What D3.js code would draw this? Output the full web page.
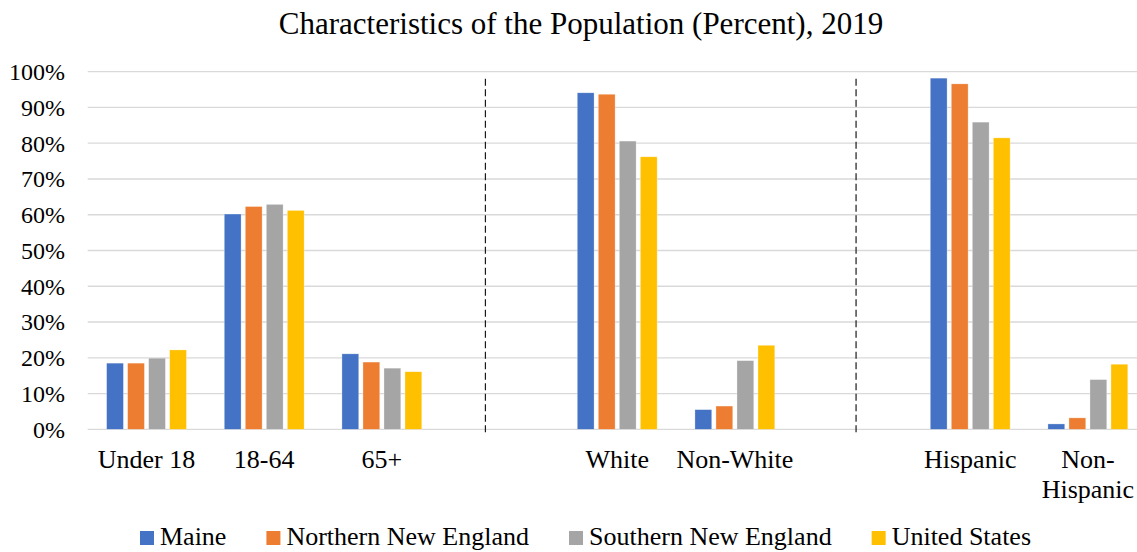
<!DOCTYPE html>
<html>
<head>
<meta charset="utf-8">
<script src="https://cdn.jsdelivr.net/npm/d3@7"></script>
<style>
  html, body { margin: 0; padding: 0; background: #fff; overflow: hidden; }
  svg { display: block; }
  svg text { font-family: "Liberation Serif", "Times New Roman", serif !important; }
</style>
</head>
<body>
<svg id="chart" width="1137" height="552"></svg>
<script>
// ---- data ----
const categories = ["Under 18", "18-64", "65+", "", "White", "Non-White", " ", "Hispanic", "Non-Hispanic"];
const seriesNames = ["Maine", "Northern New England", "Southern New England", "United States"];
const maine      = [18.5, 60.2, 21.1, null, 94.1, 5.5, null, 98.2, 1.5];
const northernNE = [18.5, 62.3, 18.8, null, 93.7, 6.5, null, 96.6, 3.2];
const southernNE = [19.9, 62.9, 17.1, null, 80.6, 19.2, null, 85.9, 13.9];
const unitedStates = [22.2, 61.2, 16.1, null, 76.2, 23.5, null, 81.5, 18.2];
const yTicks = [0, 10, 20, 30, 40, 50, 60, 70, 80, 90, 100];
const title = "Characteristics of the Population (Percent), 2019";
// section divider positions, in category-band units from the left of the plot
const dividers = [3.38, 6.53];

const seriesValues = [maine, northernNE, southernNE, unitedStates];
const colors = ["#4472C4", "#ED7D31", "#A5A5A5", "#FFC000"];

const svg = d3.select("#chart");
const W = 1137, H = 552;
const plotLeft = 87.7, plotRight = 1146.7, plotTop = 71.7, plotBottom = 429.3;
const FONT = "'Liberation Serif', 'Times New Roman', serif";

const x0 = d3.scaleBand().domain(categories).range([plotLeft, plotRight]).padding(0);
const groupPad = x0.bandwidth() * 0.1428;
const x1 = d3.scaleBand().domain(seriesNames)
  .range([groupPad, x0.bandwidth() - groupPad])
  .paddingInner(0.2).paddingOuter(0.1);
const y = d3.scaleLinear().domain([0, 100]).range([plotBottom, plotTop]);

svg.append("defs").append("clipPath").attr("id", "clip")
  .append("rect").attr("x", 0).attr("y", 0).attr("width", W).attr("height", H);

const g = svg.append("g").attr("clip-path", "url(#clip)");

// gridlines
g.append("g").selectAll("line").data(yTicks).join("line")
  .attr("x1", plotLeft).attr("x2", plotRight)
  .attr("y1", d => y(d)).attr("y2", d => y(d))
  .attr("stroke", "#d9d9d9").attr("stroke-width", 1.3);

// bars
const rows = categories.map((c, i) => ({ cat: c, vals: seriesNames.map((s, k) => ({ s, k, v: seriesValues[k][i] })) }));
g.append("g").selectAll("g").data(rows).join("g")
  .attr("transform", d => `translate(${x0(d.cat)},0)`)
  .selectAll("rect").data(d => d.vals.filter(v => v.v != null)).join("rect")
  .attr("x", d => x1(d.s))
  .attr("width", x1.bandwidth())
  .attr("y", d => y(d.v))
  .attr("height", d => y(0) - y(d.v))
  .attr("fill", d => colors[d.k])
  .attr("stroke", "#ffffff").attr("stroke-opacity", 0.5).attr("stroke-width", 0.6);

// dashed dividers
g.append("g").selectAll("line").data(dividers).join("line")
  .attr("x1", d => plotLeft + d * x0.step()).attr("x2", d => plotLeft + d * x0.step())
  .attr("y1", y(98)).attr("y2", y(0) + 6)
  .attr("stroke", "#1a1a1a").attr("stroke-width", 1.2)
  .attr("stroke-dasharray", "7,3.5");

// y axis
const yAxis = d3.axisLeft(y).tickValues(yTicks).tickSize(0).tickPadding(22.7)
  .tickFormat(d => d + "%");
const ya = svg.append("g").attr("transform", `translate(${plotLeft},0)`).call(yAxis);
ya.attr("font-family", FONT);
ya.select(".domain").remove();
ya.selectAll("text").style("font-family", FONT).attr("font-size", 24).attr("fill", "#000")
  .attr("dy", "0.33em");

// x axis
const xAxis = d3.axisBottom(x0).tickSize(0).tickFormat(() => "");
const xa = svg.append("g").attr("transform", `translate(0,${plotBottom})`).call(xAxis);
xa.attr("font-family", FONT);
xa.select(".domain").remove();
xa.selectAll(".tick").each(function (d) {
  const t = d3.select(this).select("text").text(null)
    .style("font-family", FONT).attr("font-size", 26).attr("fill", "#000")
    .attr("y", 0).attr("dy", null);
  const label = d.trim();
  if (!label) return;
  const lines = label === "Non-Hispanic" ? ["Non-", "Hispanic"] : [label];
  lines.forEach((ln, i) => {
    t.append("tspan").attr("x", 0).attr("y", 39 + i * 30).text(ln);
  });
});

// title
svg.append("text").attr("x", 581).attr("y", 34)
  .attr("text-anchor", "middle").style("font-family", FONT).attr("font-size", 31)
  .attr("fill", "#000").text(title);

// legend
const legend = svg.append("g");
const sq = 14, gapText = 6, gapItem = 40;
let cx = 0;
seriesNames.forEach((s, k) => {
  const it = legend.append("g").attr("transform", `translate(${cx},0)`);
  it.append("rect").attr("x", 0).attr("y", -14).attr("width", sq).attr("height", sq).attr("fill", colors[k]);
  const tx = it.append("text").attr("x", sq + gapText).attr("y", 0)
    .style("font-family", FONT).attr("font-size", 26).attr("fill", "#000").text(s);
  const w = tx.node().getComputedTextLength();
  cx += sq + gapText + w + gapItem;
});
const legendW = cx - gapItem;
legend.attr("transform", `translate(${585.5 - legendW / 2},545)`);
</script>
</body>
</html>
